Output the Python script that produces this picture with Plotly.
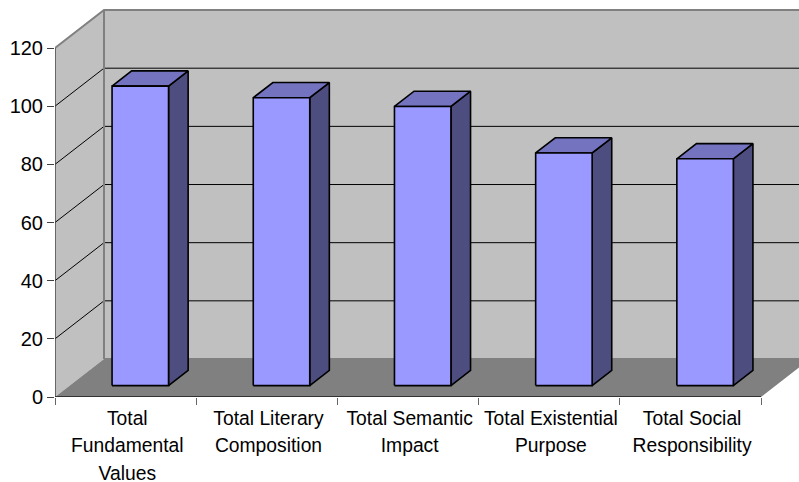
import plotly.graph_objects as go

# Chart data
categories = [
    "Total<br>Fundamental<br>Values",
    "Total Literary<br>Composition",
    "Total Semantic<br>Impact",
    "Total Existential<br>Purpose",
    "Total Social<br>Responsibility",
]
values = [103, 99, 96, 80, 78]
y_ticks = [0, 20, 40, 60, 80, 100, 120]

# Oblique projection: how far one full unit of depth moves a point on the axes
UNIT_X, UNIT_Y = 141.2, 2.908
DEPTH_X = 49 / UNIT_X
DEPTH_Y = 38 / UNIT_Y
BAR_START, BAR_END = 0.3, 0.7

WIDTH, HEIGHT = 799, 482
LEFT, BASE, TOP = 55, 397, 8

WALL = "#C0C0C0"
FLOOR = "#808080"
EDGE = "#808080"
FRONT = "#9999FF"
CAP = "#7373BF"
SIDE = "#4D4D80"

n = len(categories)
y_max = y_ticks[-1]


def project(x, y, depth):
    return x + depth * DEPTH_X, y + depth * DEPTH_Y


def polygon(points, fill, line=None, width=1.6):
    xs = [project(*p)[0] for p in points] + [project(*points[0])[0]]
    ys = [project(*p)[1] for p in points] + [project(*points[0])[1]]
    return go.Scatter(
        x=xs, y=ys, mode="lines", fill="toself", fillcolor=fill,
        line=dict(color=line or fill, width=width if line else 0),
        hoverinfo="skip", showlegend=False,
    )


def path(points, color, width, clip=True):
    return go.Scatter(
        x=[project(*p)[0] for p in points], y=[project(*p)[1] for p in points],
        mode="lines", line=dict(color=color, width=width),
        hoverinfo="skip", showlegend=False, cliponaxis=clip,
    )


fig = go.Figure()

# Walls and floor
fig.add_trace(polygon([(0, 0, 1), (n, 0, 1), (n, y_max, 1), (0, y_max, 1)], WALL))
fig.add_trace(polygon([(0, 0, 0), (0, 0, 1), (0, y_max, 1), (0, y_max, 0)], WALL))
fig.add_trace(polygon([(0, 0, 0), (n, 0, 0), (n, 0, 1), (0, 0, 1)], FLOOR))

# Gridlines run across the side wall and along the back wall
for v in y_ticks[1:-1]:
    fig.add_trace(path([(0, v, 0), (0, v, 1), (n, v, 1)], "#000000", 1))

# Wall edges
fig.add_trace(path([(0, y_max, 0), (0, y_max, 1), (n, y_max, 1)], EDGE, 2))
fig.add_trace(path([(0, 0, 1), (0, y_max, 1)], EDGE, 2))
fig.add_trace(path([(0, 0, 1), (n, 0, 1)], EDGE, 2))

# Bars: side face, top face, then front face
for i, v in enumerate(values):
    x0, x1 = i + BAR_START, i + BAR_END
    d0, d1 = BAR_START, BAR_END
    fig.add_trace(polygon([(x1, 0, d0), (x1, 0, d1), (x1, v, d1), (x1, v, d0)], SIDE, "#000000"))
    fig.add_trace(polygon([(x0, v, d0), (x1, v, d0), (x1, v, d1), (x0, v, d1)], CAP, "#000000"))
    fig.add_trace(polygon([(x0, 0, d0), (x1, 0, d0), (x1, v, d0), (x0, v, d0)], FRONT, "#000000"))

# Axis lines, limited to the chart's own extent
fig.add_trace(path([(0, 0, 0), (0, y_max, 0)], "#404040", 1.4, clip=False))
fig.add_trace(path([(0, 0, 0), (n, 0, 0)], "#333333", 2.2, clip=False))

fig.update_layout(
    width=WIDTH, height=HEIGHT, autosize=False,
    margin=dict(l=LEFT, r=0, t=TOP, b=HEIGHT - BASE, pad=0, autoexpand=False),
    paper_bgcolor="white", plot_bgcolor="white",
    showlegend=False,
    font=dict(family="Liberation Sans, Arial, sans-serif", color="#000000"),
    xaxis=dict(
        range=[0, (WIDTH - LEFT) / UNIT_X], showgrid=False, zeroline=False, showline=False,
        automargin=False,
        tickmode="array",
        tickvals=[i + 0.512 for i in range(n)],
        ticktext=[f'<span style="font-size:19.3px">{c}</span>'.replace(
            "<br>", '</span><br><span style="font-size:19.3px">') for c in categories],
        ticks="", tickangle=0, ticklabelstandoff=6,
        tickfont=dict(size=21, color="#000000"),
        minor=dict(
            tickmode="array", tickvals=list(range(n + 1)), ticks="outside",
            ticklen=7, tickwidth=1.4, tickcolor="#666666", showgrid=False,
        ),
    ),
    yaxis=dict(
        range=[0, (BASE - TOP) / UNIT_Y], showgrid=False, zeroline=False, showline=False,
        automargin=False,
        tickmode="array", tickvals=y_ticks, ticktext=[str(t) for t in y_ticks],
        ticks="outside", ticklen=7, tickwidth=1.4, tickcolor="#404040",
        tickfont=dict(size=20, color="#000000"),
    ),
)

fig.write_html("out.html", config={"displayModeBar": False})
